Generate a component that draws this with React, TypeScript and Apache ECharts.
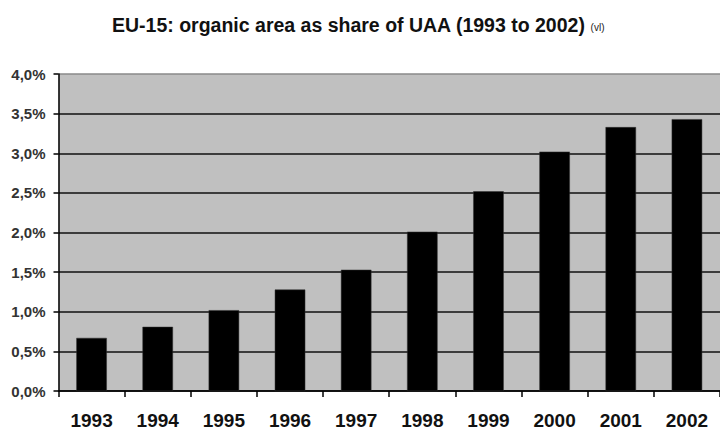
import React, { useEffect, useRef } from "react";
import * as echarts from "echarts";

const years = ["1993", "1994", "1995", "1996", "1997", "1998", "1999", "2000", "2001", "2002"];
const organicShare = [0.67, 0.81, 1.02, 1.28, 1.53, 2.01, 2.52, 3.02, 3.33, 3.43];
const titleMain = "EU-15: organic area as share of UAA (1993 to 2002)";
const titleNote = "(vl)";

const FONT = 'Arial, "Liberation Sans", sans-serif';

export default function App() {
  const ref = useRef<HTMLDivElement>(null);
  useEffect(() => {
    if (!ref.current) return;
    const chart = echarts.init(ref.current, null, { renderer: "svg" });
    const splitColors = ["#111", "#111", "#111", "#111", "#111", "#111", "#111", "#111", "#8a8a8a"];
    chart.setOption({
      animation: false,
      backgroundColor: "#ffffff",
      title: {
        left: 107,
        top: 10,
        text: `{a|${titleMain}} {b|${titleNote}}`,
        textStyle: {
          rich: {
            a: { fontFamily: FONT, fontSize: 19.5, fontWeight: "bold", color: "#111" },
            b: { fontFamily: FONT, fontSize: 10, fontWeight: "normal", color: "#222", padding: [4, 0, 0, 0] },
          },
        },
      },
      grid: {
        left: 58.5,
        right: -9.5,
        top: 74,
        bottom: 38.3,
        show: true,
        backgroundColor: "#C0C0C0",
        borderWidth: 0,
      },
      xAxis: {
        type: "category",
        data: years,
        boundaryGap: true,
        axisLine: { show: true, lineStyle: { color: "#000", width: 1.5 } },
        axisTick: { show: true, length: 6, alignWithLabel: false, lineStyle: { color: "#000", width: 1.5 } },
        axisLabel: {
          margin: 20,
          fontFamily: FONT,
          fontSize: 19,
          fontWeight: "bold",
          color: "#111",
        },
        splitLine: { show: false },
      },
      yAxis: {
        type: "value",
        min: 0,
        max: 4,
        interval: 0.5,
        axisLine: { show: true, lineStyle: { color: "#000", width: 1.5 } },
        axisTick: { show: true, length: 5, lineStyle: { color: "#000", width: 1.5 } },
        axisLabel: {
          margin: 13,
          fontFamily: FONT,
          fontSize: 15,
          fontWeight: "bold",
          color: "#333",
          formatter: (v: number) => v.toFixed(1).replace(".", ",") + "%",
        },
        splitLine: { show: true, lineStyle: { color: splitColors, width: 1.5 } },
      },
      series: [
        {
          type: "bar",
          data: organicShare,
          barWidth: 30.5,
          itemStyle: { color: "#000", borderColor: "#333", borderWidth: 0.5 },
        },
      ],
    });
    return () => chart.dispose();
  }, []);
  return (
    <div
      ref={ref}
      style={{ position: "fixed", left: 0, top: 0, width: 720, height: 430 }}
    />
  );
}
